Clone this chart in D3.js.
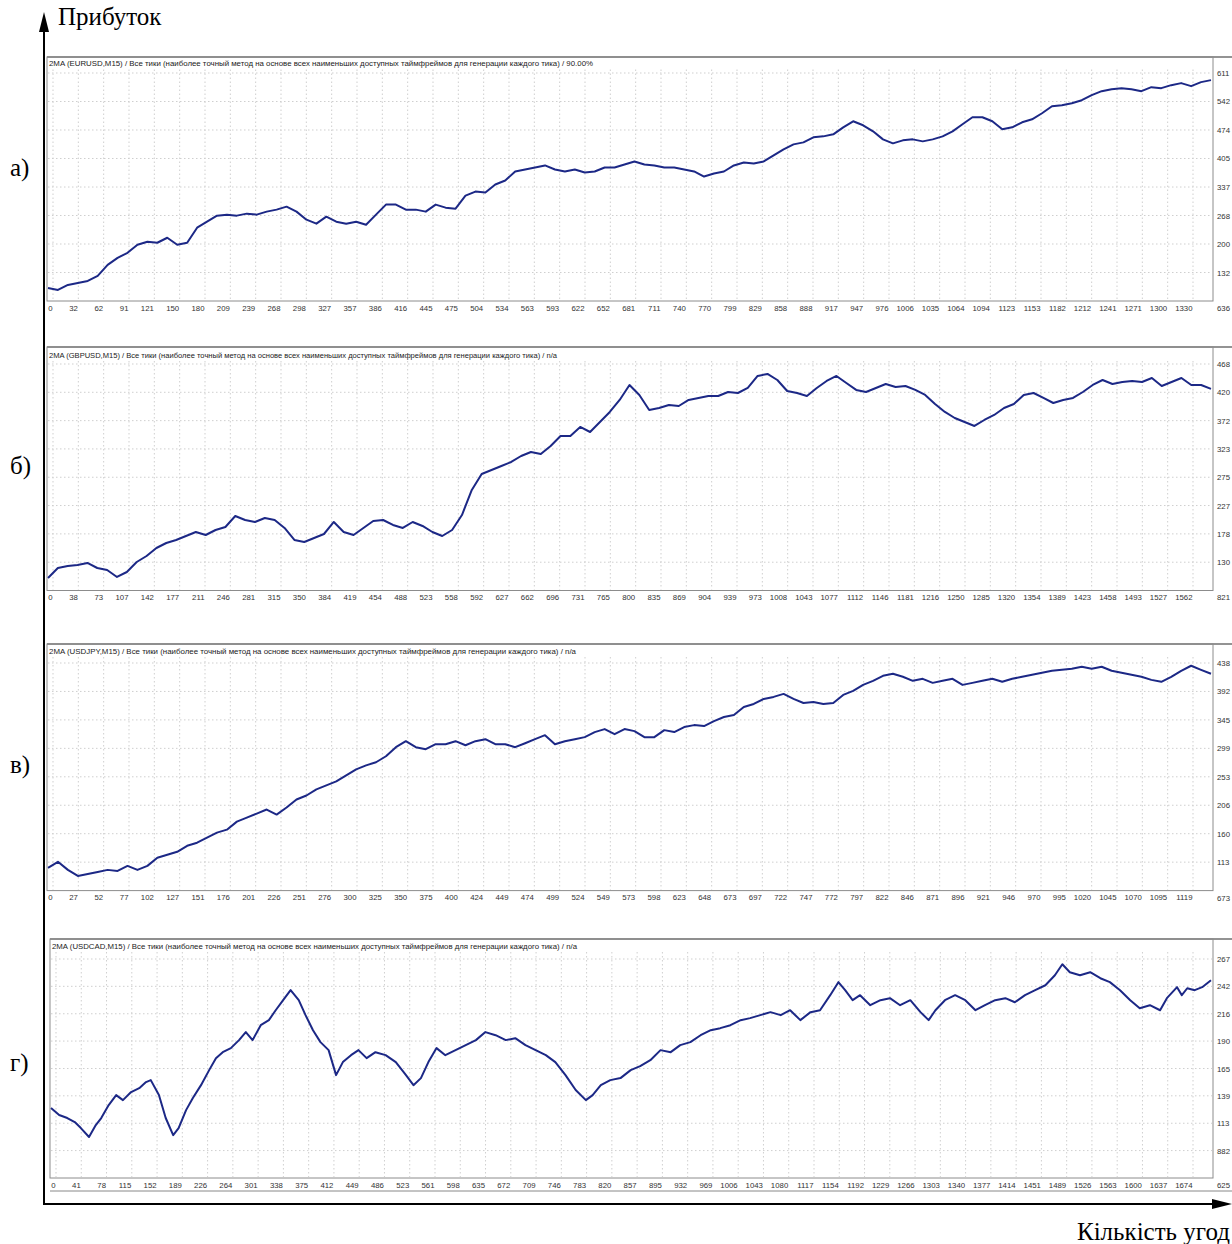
<!DOCTYPE html>
<html>
<head>
<meta charset="utf-8">
<script src="https://d3js.org/d3.v7.min.js"></script>
<style>
  body { margin: 0; background: #fff; }
  svg { display: block; }
</style>
</head>
<body>
<svg width="1232" height="1244"></svg>
<script>
// --- data ----------------------------------------------------------------

const methodText = 'Все тики (наиболее точный метод на основе всех наименьших доступных таймфреймов для генерации каждого тика)';

// EURUSD
const eurusdXLabels = ['0','32','62','91','121','150','180','209','239','268','298','327','357','386','416','445','475','504','534','563','593','622','652','681','711','740','770','799','829','858','888','917','947','976','1006','1035','1064','1094','1123','1153','1182','1212','1241','1271','1300','1330'];
const eurusdYTicks = [636, 1320, 2004, 2688, 3372, 4057, 4741, 5425, 6109];
const eurusdYLabels = ['636','132','200','268','337','405','474','542','611'];
const eurusdBalance = [949, 901, 1022, 1070, 1118, 1239, 1504, 1672, 1793, 1986, 2058, 2034, 2154, 1986, 2034, 2395, 2540, 2685, 2709, 2685, 2733, 2709, 2781, 2829, 2901, 2781, 2588, 2492, 2660, 2540, 2492, 2540, 2468, 2709, 2950, 2950, 2829, 2829, 2781, 2950, 2877, 2853, 3167, 3263, 3239, 3432, 3528, 3745, 3793, 3841, 3890, 3793, 3745, 3793, 3721, 3745, 3841, 3841, 3914, 3986, 3914, 3890, 3841, 3841, 3793, 3745, 3624, 3697, 3745, 3890, 3962, 3938, 3986, 4131, 4275, 4396, 4444, 4564, 4588, 4637, 4805, 4950, 4854, 4709, 4516, 4420, 4492, 4516, 4468, 4516, 4588, 4709, 4878, 5046, 5046, 4950, 4757, 4805, 4926, 4998, 5143, 5311, 5336, 5384, 5456, 5577, 5673, 5721, 5745, 5721, 5673, 5769, 5745, 5817, 5866, 5793, 5890, 5938];

// GBPUSD
const gbpusdXLabels = ['0','38','73','107','142','177','211','246','281','315','350','384','419','454','488','523','558','592','627','662','696','731','765','800','835','869','904','939','973','1008','1043','1077','1112','1146','1181','1216','1250','1285','1320','1354','1389','1423','1458','1493','1527','1562'];
const gbpusdYTicks = [821, 1304, 1788, 2272, 2755, 3239, 3722, 4206, 4689];
const gbpusdYLabels = ['821','130','178','227','275','323','372','420','468'];
const gbpusdBalance = [1034, 1205, 1239, 1257, 1291, 1205, 1171, 1052, 1137, 1308, 1410, 1547, 1632, 1684, 1752, 1820, 1769, 1854, 1906, 2093, 2025, 1991, 2059, 2025, 1889, 1684, 1649, 1718, 1786, 1991, 1820, 1769, 1889, 2008, 2025, 1940, 1889, 1991, 1923, 1820, 1752, 1854, 2110, 2538, 2811, 2879, 2947, 3016, 3118, 3187, 3152, 3289, 3460, 3460, 3614, 3528, 3699, 3870, 4075, 4331, 4160, 3904, 3938, 3989, 3972, 4075, 4109, 4143, 4143, 4211, 4194, 4280, 4485, 4519, 4416, 4228, 4194, 4143, 4280, 4399, 4485, 4365, 4246, 4211, 4280, 4348, 4297, 4314, 4246, 4160, 4006, 3870, 3767, 3699, 3631, 3733, 3819, 3938, 4006, 4160, 4194, 4109, 4023, 4075, 4109, 4211, 4331, 4416, 4348, 4382, 4399, 4382, 4450, 4314, 4382, 4450, 4331, 4331, 4263];

// USDJPY
const usdjpyXLabels = ['0','27','52','77','102','127','151','176','201','226','251','276','300','325','350','375','400','424','449','474','499','524','549','573','598','623','648','673','697','722','747','772','797','822','846','871','896','921','946','970','995','1020','1045','1070','1095','1119'];
const usdjpyYTicks = [673, 1137, 1601, 2065, 2529, 2993, 3457, 3921, 4385];
const usdjpyYLabels = ['673','113','160','206','253','299','345','392','438'];
const usdjpyBalance = [1044, 1142, 1011, 912, 945, 978, 1011, 994, 1076, 1011, 1076, 1208, 1257, 1306, 1404, 1454, 1536, 1618, 1667, 1798, 1864, 1929, 1995, 1913, 2028, 2159, 2224, 2323, 2388, 2454, 2552, 2651, 2716, 2766, 2864, 3012, 3110, 3012, 2979, 3061, 3061, 3110, 3044, 3110, 3143, 3061, 3061, 3012, 3077, 3143, 3208, 3061, 3110, 3143, 3176, 3258, 3307, 3225, 3307, 3274, 3176, 3176, 3290, 3258, 3340, 3372, 3356, 3438, 3504, 3536, 3668, 3717, 3799, 3832, 3881, 3799, 3733, 3750, 3717, 3733, 3864, 3930, 4028, 4094, 4176, 4209, 4160, 4094, 4127, 4061, 4094, 4127, 4028, 4061, 4094, 4127, 4078, 4127, 4160, 4192, 4225, 4258, 4274, 4291, 4324, 4291, 4324, 4258, 4225, 4192, 4160, 4110, 4078, 4160, 4258, 4340, 4274, 4209];

// USDCAD (trade number + balance)
const usdcadXLabels = ['0','41','78','115','152','189','226','264','301','338','375','412','449','486','523','561','598','635','672','709','746','783','820','857','895','932','969','1006','1043','1080','1117','1154','1192','1229','1266','1303','1340','1377','1414','1451','1489','1526','1563','1600','1637','1674'];
const usdcadYTicks = [625, 882, 1138, 1395, 1651, 1908, 2164, 2421, 2677];
const usdcadYLabels = ['625','882','113','139','165','190','216','242','267'];
const usdcadTrades = [0, 12, 24, 35, 44, 56, 66, 74, 85, 96, 106, 118, 130, 140, 147, 159, 169, 180, 188, 199, 209, 221, 233, 243, 253, 265, 277, 287, 297, 309, 321, 331, 342, 353, 365, 375, 386, 397, 409, 420, 430, 442, 453, 465, 478, 493, 508, 523, 534, 545, 556, 568, 581, 596, 611, 626, 640, 655, 670, 684, 699, 714, 729, 743, 758, 773, 788, 798, 810, 824, 839, 854, 868, 883, 898, 913, 927, 942, 957, 972, 986, 1001, 1016, 1030, 1045, 1060, 1075, 1089, 1104, 1119, 1133, 1148, 1160, 1170, 1181, 1192, 1207, 1222, 1236, 1251, 1266, 1281, 1293, 1303, 1317, 1332, 1347, 1362, 1376, 1391, 1406, 1420, 1435, 1450, 1465, 1479, 1490, 1501, 1516, 1531, 1546, 1560, 1575, 1590, 1604, 1619, 1634, 1644, 1659, 1666, 1674, 1685, 1696, 1709];
const usdcadBalance = [1280, 1215, 1187, 1149, 1093, 1009, 1121, 1187, 1308, 1402, 1355, 1430, 1467, 1524, 1542, 1402, 1187, 1027, 1093, 1261, 1374, 1495, 1636, 1748, 1804, 1842, 1917, 1992, 1917, 2057, 2104, 2197, 2291, 2385, 2291, 2151, 2010, 1898, 1823, 1589, 1711, 1776, 1823, 1748, 1804, 1776, 1711, 1589, 1495, 1561, 1711, 1842, 1776, 1823, 1870, 1917, 1992, 1963, 1917, 1935, 1870, 1823, 1776, 1711, 1589, 1449, 1355, 1402, 1495, 1542, 1561, 1636, 1673, 1729, 1823, 1804, 1870, 1898, 1963, 2010, 2029, 2057, 2104, 2123, 2151, 2179, 2151, 2197, 2104, 2179, 2197, 2338, 2460, 2385, 2291, 2338, 2244, 2291, 2310, 2244, 2291, 2179, 2104, 2197, 2291, 2338, 2291, 2197, 2244, 2291, 2310, 2272, 2338, 2385, 2431, 2525, 2628, 2553, 2525, 2553, 2497, 2460, 2385, 2291, 2216, 2244, 2197, 2310, 2413, 2338, 2403, 2385, 2413, 2478];

// --- layout ---------------------------------------------------------------

const panels = [
  { label: 'а)', labelY: 170, name: '2MA (EURUSD,M15) / ' + methodText + ' / 90.00%',
    xLabels: eurusdXLabels, yTicks: eurusdYTicks, yLabels: eurusdYLabels, balance: eurusdBalance,
    top: 57, gridTop: 73, bottom: 301, left: 47, gridLeft: 53, titleY: 64.5, titleLen: 544 },
  { label: 'б)', labelY: 468, name: '2MA (GBPUSD,M15) / ' + methodText + ' / n/a',
    xLabels: gbpusdXLabels, yTicks: gbpusdYTicks, yLabels: gbpusdYLabels, balance: gbpusdBalance,
    top: 347, gridTop: 364, bottom: 590.5, left: 47, gridLeft: 53, titleY: 356, titleLen: 508 },
  { label: 'в)', labelY: 767, name: '2MA (USDJPY,M15) / ' + methodText + ' / n/a',
    xLabels: usdjpyXLabels, yTicks: usdjpyYTicks, yLabels: usdjpyYLabels, balance: usdjpyBalance,
    top: 644, gridTop: 663, bottom: 890.6, left: 47, gridLeft: 53, titleY: 652, titleLen: 527 },
  { label: 'г)', labelY: 1065, name: '2MA (USDCAD,M15) / ' + methodText + ' / n/a',
    xLabels: usdcadXLabels, yTicks: usdcadYTicks, yLabels: usdcadYLabels, balance: usdcadBalance,
    trades: usdcadTrades,
    top: 939, gridTop: 959, bottom: 1178, left: 50, gridLeft: 56, titleY: 947, titleLen: 525, footer: 1191 }
];

const right = 1213;
const lastGrid = 1193;
const svg = d3.select('svg');

panels.forEach(p => {
  const g = svg.append('g');
  const trades = p.trades || d3.range(p.balance.length);

  const y = d3.scaleLinear()
    .domain([p.yTicks[0], p.yTicks[p.yTicks.length - 1]])
    .range([p.bottom, p.gridTop]);
  const x = d3.scaleLinear()
    .domain(d3.extent(trades))
    .range([p.left + 1, right - 2]);
  const xAxisScale = d3.scalePoint()
    .domain(p.xLabels)
    .range([p.gridLeft, lastGrid]);

  // frame
  g.append('line')
    .attr('x1', p.left).attr('x2', 1232)
    .attr('y1', p.top).attr('y2', p.top)
    .attr('stroke', '#6f6f6f').attr('stroke-width', 1.3);
  g.append('rect')
    .attr('x', p.left).attr('y', p.top)
    .attr('width', right - p.left).attr('height', p.bottom - p.top)
    .attr('fill', 'none').attr('stroke', '#8c8c8c');
  if (p.footer) {
    g.append('line')
      .attr('x1', p.left).attr('x2', 1232)
      .attr('y1', p.footer).attr('y2', p.footer)
      .attr('stroke', '#888');
  }

  // grid
  g.selectAll('.hgrid').data(p.yTicks.slice(1)).join('line')
    .attr('x1', p.left + 1).attr('x2', right - 1)
    .attr('y1', d => y(d)).attr('y2', d => y(d))
    .attr('stroke', '#cfcfcf').attr('stroke-dasharray', '1.5,2.5');
  g.selectAll('.vgrid').data(p.xLabels).join('line')
    .attr('x1', d => xAxisScale(d)).attr('x2', d => xAxisScale(d))
    .attr('y1', p.titleY + 5).attr('y2', p.bottom - 1)
    .attr('stroke', '#cfcfcf').attr('stroke-dasharray', '1.5,2.5');

  // title
  g.append('text')
    .attr('x', p.left + 2).attr('y', p.titleY)
    .attr('dominant-baseline', 'middle')
    .attr('font-family', 'Liberation Sans, sans-serif')
    .attr('font-size', 7.5)
    .attr('fill', '#222')
    .attr('textLength', p.titleLen)
    .attr('lengthAdjust', 'spacingAndGlyphs')
    .text(p.name);

  // balance line
  g.append('path')
    .datum(p.balance)
    .attr('fill', 'none')
    .attr('stroke', '#1c2886')
    .attr('stroke-width', 2)
    .attr('stroke-linejoin', 'round')
    .attr('d', d3.line().x((d, i) => x(trades[i])).y(d => y(d)));

  // axes
  const labelOf = new Map(p.yTicks.map((t, i) => [t, p.yLabels[i]]));
  g.append('g')
    .attr('transform', `translate(${right},0)`)
    .call(d3.axisRight(y).tickValues(p.yTicks).tickSize(0).tickPadding(4).tickFormat(d => labelOf.get(d)))
    .call(a => a.select('.domain').remove())
    .call(a => a.selectAll('text')
      .attr('font-family', 'Liberation Sans, sans-serif')
      .attr('font-size', 7.8).attr('fill', '#333')
      .attr('y', d => d === p.yTicks[0] ? 7 : 0));
  g.append('g')
    .attr('transform', `translate(0,${p.bottom})`)
    .call(d3.axisBottom(xAxisScale).tickSize(0).tickPadding(4))
    .call(a => a.select('.domain').remove())
    .call(a => a.selectAll('text')
      .attr('font-family', 'Liberation Sans, sans-serif')
      .attr('font-size', 7.8).attr('fill', '#333')
      .attr('text-anchor', 'end').attr('x', -1));

  // panel letter
  svg.append('text')
    .attr('x', 10).attr('y', p.labelY)
    .attr('dominant-baseline', 'middle')
    .attr('font-family', 'Liberation Serif, serif')
    .attr('font-size', 25)
    .text(p.label);
});

// outer axes with arrows
const axisG = svg.append('g');
axisG.append('line').attr('x1', 44).attr('x2', 44).attr('y1', 1205).attr('y2', 28)
  .attr('stroke', '#000').attr('stroke-width', 2);
axisG.append('path').attr('d', 'M44,12L39,32L49,32Z').attr('fill', '#000');
axisG.append('line').attr('x1', 43).attr('x2', 1218).attr('y1', 1204).attr('y2', 1204)
  .attr('stroke', '#000').attr('stroke-width', 2);
axisG.append('path').attr('d', 'M1232,1204L1212,1199L1212,1209Z').attr('fill', '#000');

svg.append('text')
  .attr('x', 58).attr('y', 25)
  .attr('font-family', 'Liberation Serif, serif')
  .attr('font-size', 25)
  .text('Прибуток');
svg.append('text')
  .attr('x', 1077).attr('y', 1240)
  .attr('font-family', 'Liberation Serif, serif')
  .attr('font-size', 25)
  .text('Кількість угод');
</script>
</body>
</html>
